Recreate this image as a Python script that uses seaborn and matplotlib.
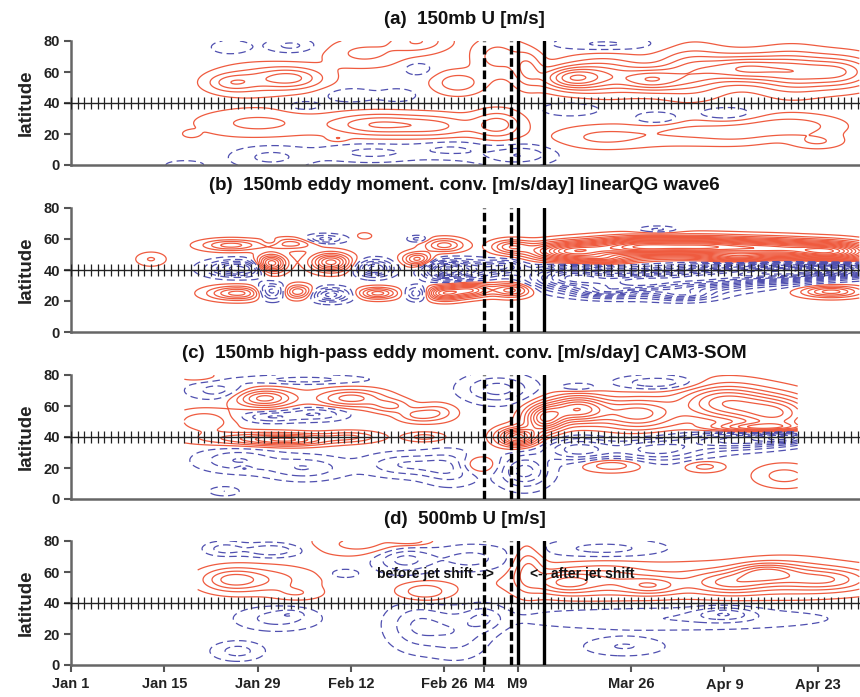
import numpy as np
import matplotlib
matplotlib.use("Agg")
import matplotlib.pyplot as plt
import seaborn as sns

# ---------------- data ----------------
# blobs: (day since Jan 1, latitude, amplitude [contour intervals], day width, lat width)
blobs_a = [
    (33, 56, 3.6, 3.5, 5), (24, 53, 2.3, 2.5, 4), (27, 55, 1.5, 4, 7),
    (44, 72, 1.8, 4, 6), (52, 80, 2.5, 3, 5), (58, 53, 2.3, 2.5, 5), (64, 70, 2.0, 2.5, 8),
    (28, 27, 1.8, 6, 6), (46, 26, 3.5, 5, 5), (55, 25, 2.3, 4, 5), (64, 26, 3.0, 2.5, 6),
    (18, 20, 1.2, 0.8, 1.5), (40, 17, 1.2, 1, 1.5),
    (30, 5, -1.8, 4, 5), (45, 8, -1.8, 5, 4), (57, 10, -1.6, 4, 4), (66, 5, -1.5, 4, 4),
    (17, 0, -1.3, 2, 2),
    (24, 76, -1.5, 2, 3), (33, 77, -1.8, 2.5, 3), (42, 45, -1.5, 2.5, 3), (49, 45, -1.3, 2, 3),
    (35, 38, -1.2, 2, 2.5), (52, 62, -1.3, 1.5, 3),
    (68.5, 62, 2.5, 1.5, 8), (75, 56, 5.0, 3, 5), (80, 58, 3.5, 4, 8), (87, 55, 4.2, 3, 5),
    (93, 60, 3.5, 3.5, 10), (101, 62, 5.0, 4, 6), (108, 60, 3.5, 3.5, 9), (115, 60, 4.5, 4, 7),
    (80, 18, 1.8, 5, 5), (92, 22, 1.5, 5, 6), (100, 20, 1.3, 4, 5), (108, 25, 2.2, 5, 5),
    (112, 15, 1.5, 2.5, 3),
    (75, 36, -1.5, 3, 3), (88, 30, -1.8, 2.5, 3), (98, 33, -1.6, 3, 3), (80, 78, -1.8, 5, 3),
    (68, 8, -1.3, 3, 4),
]
blobs_b = [
    (12, 47, 1.6, 1.5, 3),
    (24, 56, 4, 3, 2.5), (25, 41, -6, 3, 3.5), (25, 25, 5, 3, 3),
    (30, 44, 8, 1.5, 4), (33, 57, 3, 2.5, 2.5), (30, 26, -5, 1.5, 3.5), (30, 58, -1.5, 1, 1.5),
    (34, 26, 4.5, 1.5, 3),
    (39, 45, 7, 2, 4), (39, 24, -5, 2, 3), (38, 60, -3, 2, 2),
    (44, 62, 1.3, 0.8, 1.5),
    (45.5, 41, -6, 1.8, 3.5), (46, 25, 5, 2, 2.5),
    (52, 60, -2, 1, 1.5), (52, 47, 5, 1.5, 3), (52, 25, -4, 1.2, 3),
    (56, 56, 4, 2, 3), (56, 40, -8, 2, 4), (56, 25, 7, 2, 3),
    (60, 40, -5, 2.5, 4), (60, 27, 6, 2, 3), (66, 27, 5, 2, 3), (66, 55, 4, 2, 3), (65, 42, -4, 2, 3),
    (75, 52, 10, 4, 4), (85, 55, 12, 5, 4), (95, 55, 11, 5, 4), (105, 54, 10, 5, 4), (114, 52, 11, 4, 4),
    (80, 47, 4, 3, 2), (100, 48, 4, 3, 2),
    (75, 35, -8, 4, 5), (85, 32, -9, 5, 5), (95, 35, -8, 5, 5), (105, 38, -10, 5, 4), (114, 40, -13, 4, 3),
    (80, 26, -4, 3, 2.5), (92, 24, -4, 3, 2.5),
    (114, 26, 5, 3, 2.5), (88, 66, -2, 2, 1.5), (84, 26, 1.3, 0.6, 1),
]
blobs_c = [
    (19, 79, 1.5, 2, 2), (22, 70, -2, 3, 4),
    (20, 50, 2.5, 3, 5), (27, 39, 3, 6, 3), (33, 38, 4, 4, 2.5), (42, 40, 2.5, 3, 2.5),
    (29, 65, 5, 3, 4), (30, 53, -2.5, 3, 2.5), (37, 55, -2.5, 3, 3),
    (42, 65, 4, 3.5, 4), (48, 60, 2.5, 2, 3), (52, 54, 2.5, 2, 3),
    (35, 77, -2, 6, 2),
    (25, 25, -2.5, 4, 5), (35, 20, -2.5, 4, 5), (50, 22, -2.5, 4, 5),
    (53, 40, 2, 2, 2), (23, 5, -1.5, 1.5, 2), (26, 20, 1.2, 0.7, 1.2),
    (64, 71, -3, 3.5, 6), (67, 40, 8, 2, 4), (61, 22, 2.5, 2, 4), (68, 18, -4, 2.5, 7),
    (57, 20, -2.5, 3, 7), (55, 56, 2, 2, 4),
    (71, 52, 7, 2, 6), (76, 58, 7, 3, 6), (85, 55, 5, 4, 7), (98, 62, 6, 4.5, 8),
    (106, 55, 6, 4, 8), (103, 46, 5, 5, 2),
    (76, 32, -4, 3.5, 5), (88, 32, -4, 5, 5), (100, 38, -5, 5, 4), (107, 40, -6, 3, 3),
    (81, 22, 2.5, 3, 3), (95, 21, 2, 2, 2.5), (107, 15, 2, 3, 5),
    (88, 75, -2.5, 4, 3), (76, 72, -1.5, 2, 2),
]
blobs_d = [
    (24, 55, 3, 3, 5), (29, 55, 2, 5, 6), (34, 46, 1.2, 2.5, 3),
    (23, 75, -2, 2, 3), (30, 74, -2.5, 3, 3),
    (31, 30, -2, 4, 5), (33, 33, -1, 1.5, 2), (25, 9, -2, 2.5, 4),
    (44, 78, 2, 5, 5), (51, 80, 2, 2, 2),
    (41, 59, -1.5, 1.5, 2), (50, 68, -3, 3, 6), (53, 47, 2.5, 2.5, 4),
    (52, 25, -2.5, 3, 10), (58, 20, -2, 3, 10), (62, 30, -2, 2, 6), (60, 68, -2, 4, 6),
    (68.5, 62, 2.5, 1.5, 10), (74, 53, 3.5, 3, 5), (80, 55, 2, 4, 7), (87, 51, 3, 3, 4),
    (99, 53, 3.5, 4, 5), (104, 60, 3.5, 3, 4), (108, 57, 2, 4, 7), (114, 55, 3, 4, 5),
    (95, 55, 1.5, 22, 8),
    (98, 33, -2.5, 3, 3), (90, 30, -1.5, 16, 5), (83, 12, -1.6, 4, 4), (80, 75, -2, 6, 4),
]
data_range = {"a": (14, 118.4), "b": (8, 118.4), "c": (17, 109), "d": (19, 118.4)}
titles = {
    "a": "(a)  150mb U [m/s]",
    "b": "(b)  150mb eddy moment. conv. [m/s/day] linearQG wave6",
    "c": "(c)  150mb high-pass eddy moment. conv. [m/s/day] CAM3-SOM",
    "d": "(d)  500mb U [m/s]",
}
max_level = {"a": 8, "b": 16, "c": 10, "d": 6}
tick_days = [0, 14, 28, 42, 56, 62, 67, 84, 98, 112]
tick_labels = ["Jan 1", "Jan 15", "Jan 29", "Feb 12", "Feb 26", "M4", "M9", "Mar 26", "Apr 9", "Apr 23"]
dashed_days = [62, 66]
solid_days = [67, 71]
lat_ticks = [0, 20, 40, 60, 80]

# ---------------- styling ----------------
sns.set_theme(style="white")
plt.rcParams["font.family"] = ["Liberation Sans", "DejaVu Sans"]
plt.rcParams["font.weight"] = "bold"

RED = "#ef5b3f"
BLUE = "#5050b0"
XMAX = 118.35

days = np.arange(0, 118.6, 0.25)
lats = np.arange(0, 80.01, 0.5)
D, L = np.meshgrid(days, lats)


def field(blobs, rng):
    f = np.zeros_like(D)
    for d0, l0, a, sd, sl in blobs:
        f += a * np.exp(-0.5 * ((D - d0) / sd) ** 2 - 0.5 * ((L - l0) / sl) ** 2)
    f[(D < rng[0]) | (D > rng[1])] = np.nan
    return f


fig = plt.figure(figsize=(8.6, 6.97), dpi=100)
W, H = 860, 697
tops = [41, 208, 375, 541]
for key, blobs, top in zip("abcd", [blobs_a, blobs_b, blobs_c, blobs_d], tops):
    ax = fig.add_axes([71 / W, 1 - (top + 124) / H, (W - 71) / W, 124 / H])
    F = field(blobs, data_range[key])
    n = max_level[key]
    ax.contour(D, L, F, levels=np.arange(1, n + 1) - 0.5, colors=RED,
               linewidths=0.9, linestyles="solid")
    cs = ax.contour(D, L, F, levels=-np.arange(n, 0, -1) + 0.5, colors=BLUE,
                    linewidths=0.9, linestyles="dashed")
    cs.set_linestyle((0, (6, 3.5)))
    # 40N reference line with daily tick marks
    td = np.arange(0, 119, 1)
    ax.plot([-1, XMAX], [40, 40], color="#222", lw=1.0, clip_on=False, zorder=5)
    ax.plot(td, np.full(td.shape, 40.0), ls="none", marker="|", ms=8, mew=0.9,
            color="#222", zorder=5)
    for dd in dashed_days:
        ax.axvline(dd, color="black", lw=2.4, ls=(0, (2.6, 1.1)), zorder=6)
    for dd in solid_days:
        ax.axvline(dd, color="black", lw=2.4, zorder=6)
    ax.set_xlim(0, XMAX)
    ax.set_ylim(0, 80)
    ax.set_yticks(lat_ticks)
    ax.set_yticklabels([str(v) for v in lat_ticks], fontsize=10.5, fontweight="bold", color="#222")
    ax.set_ylabel("latitude", fontsize=13.5, fontweight="bold", color="#222", labelpad=6)
    ax.tick_params(axis="y", direction="out", length=5, width=1.5, color="#555", pad=3, left=True)
    if key == "d":
        ax.set_xticks(tick_days)
        ax.set_xticklabels(tick_labels, fontsize=10.5, fontweight="bold", color="#222")
        ax.tick_params(axis="x", direction="out", length=5, width=1.5, color="#555", pad=4, bottom=True)
        ax.text(45.9, 59, "before jet shift -->", fontsize=10, fontweight="bold",
                ha="left", va="center", color="#111", zorder=7)
        ax.text(68.8, 59, "<-- after jet shift", fontsize=10, fontweight="bold",
                ha="left", va="center", color="#111", zorder=7)
    else:
        ax.set_xticks([])
    sns.despine(ax=ax)
    for s in ("left", "bottom"):
        ax.spines[s].set_color("#666")
        ax.spines[s].set_linewidth(1.8)
    ax.set_facecolor("white")
    fig.text(0.54, 1 - (top - 22) / H, titles[key], ha="center", va="center",
             fontsize=13.5, fontweight="bold", color="#111")

fig.savefig("out.png", dpi=100, facecolor="white")
